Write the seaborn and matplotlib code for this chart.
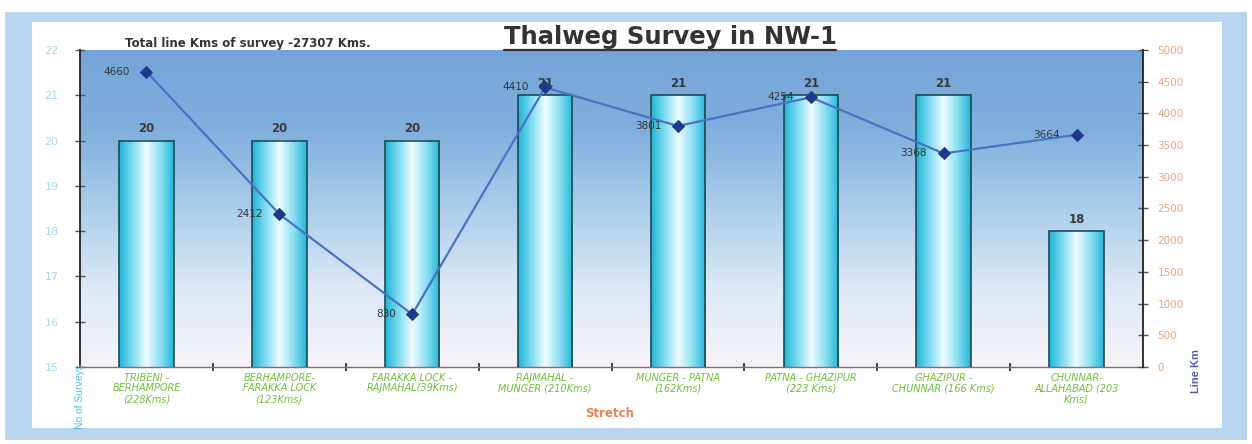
import numpy as np
import pandas as pd
import matplotlib
matplotlib.use("Agg")
import matplotlib.pyplot as plt
from matplotlib.colors import LinearSegmentedColormap
from matplotlib.patches import Rectangle
from matplotlib.lines import Line2D
import seaborn as sns

# ---- data -------------------------------------------------------------
stretches = [
    "TRIBENI -\nBERHAMPORE\n(228Kms)",
    "BERHAMPORE-\nFARAKKA LOCK\n(123Kms)",
    "FARAKKA LOCK -\nRAJMAHAL(39Kms)",
    "RAJMAHAL -\nMUNGER (210Kms)",
    "MUNGER - PATNA\n(162Kms)",
    "PATNA - GHAZIPUR\n(223 Kms)",
    "GHAZIPUR -\nCHUNNAR (166 Kms)",
    "CHUNNAR-\nALLAHABAD (203\nKms)",
]
surveys = [20, 20, 20, 21, 21, 21, 21, 18]
line_km = [4660, 2412, 830, 4410, 3801, 4254, 3368, 3664]
left_ticks = [15, 16, 17, 18, 19, 20, 21, 22]
right_ticks = [0, 500, 1000, 1500, 2000, 2500, 3000, 3500, 4000, 4500, 5000]

df = pd.DataFrame({"stretch": stretches, "surveys": surveys,
                   "line_km": line_km, "pos": np.arange(len(stretches))})

sns.set_theme(style="white")
plt.rcParams["font.family"] = ["DejaVu Sans"]

W, H = 1252, 444
fig = plt.figure(figsize=(W / 100, H / 100), dpi=100)
fig.patch.set_facecolor("white")

# outer light-blue frame
def px_rect(x0, y0, x1, y1, color):
    fig.patches.append(Rectangle((x0 / W, 1 - y1 / H), (x1 - x0) / W, (y1 - y0) / H,
                                 transform=fig.transFigure, facecolor=color,
                                 edgecolor="none", zorder=-10))
px_rect(5, 12, 1247, 440, "#b9d5f0")
px_rect(32, 22, 1222, 428, "white")

ax = fig.add_axes([80 / W, 1 - 367 / H, (1143 - 80) / W, (367 - 50) / H])
ax.set_facecolor("none")

YMIN, YMAX = 15, 22

# ---- bars -------------------------------------------------------------
sns.barplot(data=df, x="pos", y="surveys", ax=ax, width=0.41,
            color="#30c0e0", edgecolor="#1d4a52", linewidth=1.2, zorder=3)

# plot-area background gradient (blue at top fading to near white)
bg_cmap = LinearSegmentedColormap.from_list(
    "bg", ["#f6f3f9", "#dce8f5", "#abcdeb", "#80aedd", "#74a4d8"])
grad = np.linspace(0, 1, 256).reshape(-1, 1)
ax.imshow(grad, cmap=bg_cmap, aspect="auto", origin="lower",
          extent=[0, 1, 0, 1], transform=ax.transAxes, zorder=0)

# horizontal cyan gradient inside every bar (visible part above the axis floor)
bar_cmap = LinearSegmentedColormap.from_list(
    "bar", ["#1fb3d6", "#7fdcf0", "#effcff", "#8fe0f2", "#22b6d8"])
hgrad = np.linspace(0, 1, 256).reshape(1, -1)
for patch in ax.patches:
    x0, w, h = patch.get_x(), patch.get_width(), patch.get_height()
    ax.imshow(hgrad, cmap=bar_cmap, aspect="auto",
              extent=[x0, x0 + w, YMIN, h], zorder=2)
    patch.set_facecolor("none")
    ax.text(x0 + w / 2, h + 0.12, f"{int(h)}", ha="center", va="bottom",
            fontsize=8.5, fontweight="bold", color="#3a3a3a", zorder=6)
ax.set_ylim(YMIN, YMAX)
ax.set_xlim(-0.5, len(stretches) - 0.5)

# ---- axes styling -----------------------------------------------------
for s in ["top", "right"]:
    ax.spines[s].set_visible(False)
ax.spines["left"].set_color("#222222")
ax.spines["left"].set_linewidth(1.3)
ax.spines["bottom"].set_color("#8a6a6a")
ax.spines["bottom"].set_linewidth(1.0)
ax.set_yticks(left_ticks)
ax.set_yticklabels([str(t) for t in left_ticks])
ax.tick_params(axis="y", direction="inout", length=7, width=1, color="#555555",
               labelcolor="#a6dbe6", labelsize=8, pad=12, left=True)
ax.set_xticks(df["pos"])
ax.set_xticklabels(df["stretch"], fontsize=7, style="italic", color="#6cc03a",
                   linespacing=1.1)
ax.tick_params(axis="x", length=0, pad=4)
ax.set_xticks(np.arange(0.5, len(stretches) - 1, 1.0), minor=True)
ax.tick_params(axis="x", which="minor", direction="inout", length=6, width=1.3,
               color="#333333", bottom=True)
ax.set_xlabel("")
ax.set_ylabel("")

# ---- line on secondary axis -------------------------------------------
ax2 = ax.twinx()
sns.lineplot(data=df, x="pos", y="line_km", ax=ax2, color="#4a72c4", linewidth=1.6,
             marker="D", markersize=6, markerfacecolor="#1f3a8a",
             markeredgecolor="#1f3a8a", zorder=5)
ax2.set_ylim(0, 5000)
ax2.set_xlim(-0.5, len(stretches) - 0.5)
ax2.set_yticks(right_ticks)
ax2.set_yticklabels([str(t) for t in right_ticks])
ax2.tick_params(axis="y", direction="inout", length=7, width=1, color="#555555",
                labelcolor="#f0a27a", labelsize=7.5, pad=7, right=True)
for s in ["top", "left", "bottom"]:
    ax2.spines[s].set_visible(False)
ax2.spines["right"].set_color("#222222")
ax2.spines["right"].set_linewidth(1.3)
ax2.set_ylabel("")
ax2.set_xlabel("")
for xp, v in zip(df["pos"], df["line_km"]):
    ax2.annotate(f"{v}", (xp, v), xytext=(-12, 0), textcoords="offset points",
                 ha="right", va="center", fontsize=7.5, color="#333333", zorder=6)

# ---- titles and axis captions -----------------------------------------
fig.text(125 / W, 1 - 43 / H, "Total line Kms of survey -27307 Kms.", fontsize=8.5,
         fontweight="bold", color="#333333", ha="left", va="center")
title = fig.text(670 / W, 1 - 37 / H, "Thalweg Survey in NW-1", fontsize=17.5,
                 fontweight="bold", color="#333333", ha="center", va="center")
fig.text(610 / W, 1 - 413 / H, "Stretch", fontsize=8.5, fontweight="bold",
         color="#f08050", ha="center", va="center")
fig.text(80 / W, 1 - 396 / H, "No of Surveys", rotation=90, fontsize=7.5,
         color="#4cc4e4", ha="center", va="center", family="Liberation Sans")
fig.text(1196 / W, 1 - 371 / H, "Line Km", rotation=90, fontsize=8,
         fontweight="bold", color="#5a5ab0", ha="center", va="center",
         family="Liberation Sans")

fig.canvas.draw()
bb = title.get_window_extent()
yline = bb.y0 - 1
fig.add_artist(Line2D([bb.x0 / W, bb.x1 / W], [yline / H, yline / H],
                      transform=fig.transFigure, color="#333333", linewidth=1.6))

fig.savefig("out.png", dpi=100)
